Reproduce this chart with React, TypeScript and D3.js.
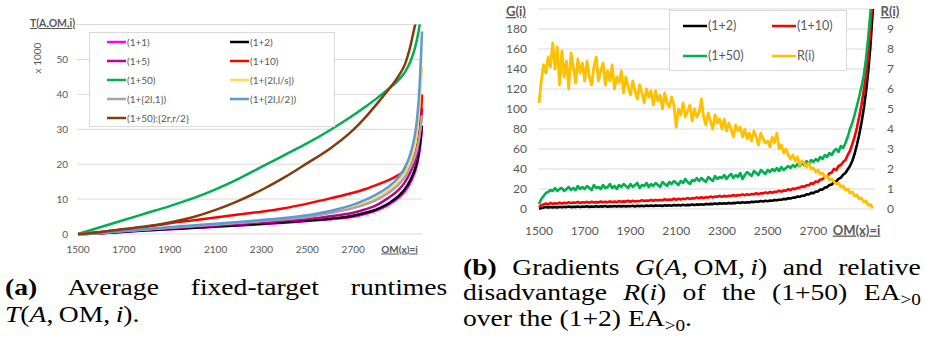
import React from "react";
import * as d3 from "d3";

// ---------- Left chart (a): T(A,OM,i) in thousands ----------
const omLeft = [1500,1550,1600,1700,1800,1900,2000,2100,2200,2300,2400,2500,2600,2700,2750,2800,2850,2900,2925,2950,2965,2975,2985,2990,2995,2998,3000];
const t1p1 = [0,0.05,0.2,0.6,1.0,1.35,1.7,2.05,2.4,2.8,3.2,3.7,4.2,4.9,5.7,6.7,8.2,10.5,12.2,14.8,17,19,22,24,27,29,30];
const t1p2 = [0,0.06,0.22,0.65,1.05,1.4,1.8,2.15,2.5,2.9,3.35,3.85,4.4,5.2,6.0,7.0,8.6,11.0,12.8,15.5,17.8,19.8,23,25,28,30,31];
const t1p5 = [0,0.08,0.28,0.8,1.25,1.65,2.05,2.45,2.85,3.3,3.8,4.3,5.1,6.1,7.0,8.2,10.2,12.8,14.8,17.8,20,22,25.5,28,31.5,34,36];
const t1p10 = [0,0.3,0.6,1.3,2.1,3.1,3.9,4.7,5.6,6.4,7.4,8.7,10.2,11.8,12.8,14.0,15.3,17.0,18.2,20,22,24,27.5,30,34,37,40];
const t1p50 = [0,1.0,2.0,4.0,6.0,8.0,10.2,12.8,15.8,19.2,22.6,26.0,29.8,34.0,36.3,38.7,41.3,44.3,46.3,49.5,52.3,54.8,58,60,62,63,64];
const t2lls = [0,0.1,0.33,0.9,1.38,1.85,2.32,2.8,3.28,3.78,4.35,5.1,6.2,7.8,8.9,10.3,12.3,15.2,17.5,21,24.5,28,34,38,43,46,48];
const t2l1 = [0,0.1,0.3,0.85,1.33,1.8,2.27,2.72,3.2,3.7,4.25,4.9,6.0,7.4,8.4,9.7,11.6,14.3,16.3,19.2,21.5,23.5,26.5,28.5,31,33,34];
const t2ll2 = [0,0.1,0.35,0.95,1.45,1.95,2.45,2.95,3.45,4.0,4.6,5.4,6.6,8.4,9.7,11.3,13.3,16.4,19,23,27,31,38,43,50,55,58];
const t50rr = [0,0.2,0.6,1.4,2.2,3.3,4.8,6.9,9.5,12.6,16.2,20.3,24.5,29.8,33.2,37.0,41.0,45.5,48.5,54,58.5,61.5,66,68,70,71,72];

const leftSeries = [
  { name: "(1+1)", color: "#FF00FF", values: t1p1 },
  { name: "(1+2)", color: "#000000", values: t1p2 },
  { name: "(1+5)", color: "#C00090", values: t1p5 },
  { name: "(1+10)", color: "#FF0000", values: t1p10 },
  { name: "(1+50)", color: "#00B050", values: t1p50 },
  { name: "(1+{2l,l/s})", color: "#FFD966", values: t2lls },
  { name: "(1+{2l,1})", color: "#A5A5A5", values: t2l1 },
  { name: "(1+{2l,l/2})", color: "#5B9BD5", values: t2ll2 },
  { name: "(1+50):{2r,r/2}", color: "#843C0C", values: t50rr },
];
const leftXTicks = [1500,1700,1900,2100,2300,2500,2700];
const leftYTicks = [0,10,20,30,40,50];
const leftGrid = [0,10,20,30,40,50,60];

// ---------- Right chart (b): gradients G(i) and R(i), step 10 from 1500 to 2960 ----------
const omRight = d3.range(1500, 2970, 10);
const g1p2 = [
  0.3,1.0,1.4,1.9,1.4,2.1,1.6,2.0,1.6,2.3,
  1.7,2.2,1.9,2.5,1.9,2.3,2.1,2.6,2.0,2.4,
  2.2,2.7,2.1,2.5,2.3,2.8,2.2,2.7,2.4,2.9,
  2.3,2.8,2.5,3.0,2.4,2.9,2.6,3.1,2.5,3.0,
  2.8,3.2,2.6,3.3,2.9,3.2,2.8,3.4,3.0,3.5,
  2.9,3.6,3.2,3.5,3.1,3.8,3.4,3.7,3.3,4.0,
  3.6,4.0,3.5,4.2,3.8,4.1,3.9,4.5,3.9,4.6,
  4.3,4.7,4.3,5.1,4.7,5.1,4.9,5.5,4.9,5.7,
  5.3,5.7,5.4,6.1,5.6,6.1,5.9,6.5,6.0,6.7,
  6.3,6.8,6.5,7.3,6.9,7.4,7.2,7.9,7.4,8.2,
  7.8,8.4,8.2,9.0,8.7,9.3,9.2,10.1,9.8,10.8,
  10.5,11.4,11.3,12.5,12.2,13.3,13.3,14.7,14.5,16.1,
  15.9,17.4,17.6,19.4,19.4,21.5,21.9,24.0,24.4,26.9,
  27.6,30.2,31.4,34.2,36,39.5,43,48,55,64,
  74,86,100,117,138,165,200,
];
const g1p10 = [
  2,3.8,4.6,5.4,4.6,6.0,5.1,5.8,5.3,6.4,
  5.4,6.3,5.7,6.8,5.9,6.5,6.2,7.0,6.0,6.7,
  6.4,7.1,6.2,7.3,6.6,6.9,6.5,7.5,6.8,7.2,
  6.7,7.6,7.0,7.4,6.9,7.9,7.2,7.6,7.4,8.2,
  7.3,8.2,7.6,8.0,7.8,8.7,7.9,8.5,8.3,9.1,
  8.2,9.1,8.6,9.0,8.8,9.7,8.9,9.5,9.3,10.2,
  9.2,10.3,9.5,10.2,10.0,10.9,10.1,10.8,10.6,11.6,
  10.7,11.7,11.0,11.8,11.5,12.4,11.6,12.4,12.2,13.1,
  12.1,13.2,12.6,13.2,13.0,14.0,13.1,13.9,13.7,14.6,
  13.7,14.8,14.1,15.0,14.7,15.8,14.9,15.8,15.6,16.6,
  15.7,17.0,16.3,17.2,17.1,18.3,17.4,18.5,18.4,19.7,
  18.9,20.5,19.8,21.2,21.2,22.8,22.1,23.8,23.8,25.8,
  25.1,27.6,27.1,29.5,29.8,32.6,32.3,35.8,36.3,40.2,
  39,43,44,47,49,54,58,65,72,81,
  92,104,118,134,155,182,215,
];
const g1p50 = [
  5,10,13,16,17,19,18,21,18,20,
  21,18,20,22,19,21,19,23,20,22,
  20,23,21,19,24,21,22,20,24,21,
  22,25,21,23,20,24,22,25,23,21,
  25,22,24,26,21,24,23,26,22,25,
  23,26,24,22,27,25,23,27,25,28,
  26,24,28,26,30,27,25,29,28,31,
  28,31,29,27,32,30,28,33,30,32,
  31,34,30,33,35,31,34,32,36,30,
  34,37,35,33,38,36,34,39,37,35,
  39,37,40,38,41,38,42,39,41,43,
  41,44,42,45,43,46,44,48,45,49,
  47,50,48,52,50,54,52,56,54,58,
  60,57,63,61,66,72,80,86,94,103,
  112,122,133,150,172,198,230,
];
const rValues = [
  5.3,6.4,7.2,6.8,7.6,7.1,8.3,7.0,8.1,6.2,
  7.9,6.6,7.4,6.0,7.8,7.1,6.3,7.5,6.8,7.3,
  6.4,7.4,6.6,6.2,7.1,7.6,6.4,6.9,7.3,6.2,
  6.9,6.4,7.2,6.0,6.6,6.3,6.9,5.8,6.6,6.1,
  5.7,6.4,5.9,5.5,6.2,5.8,5.3,6.0,5.6,5.9,
  5.2,5.9,5.4,5.7,5.0,5.8,5.3,5.1,5.6,5.2,
  4.1,5.0,4.7,5.3,4.6,4.9,5.2,4.4,5.0,4.6,
  4.8,5.5,4.6,4.2,4.8,4.4,4.0,4.7,4.3,4.5,
  4.0,4.5,3.9,4.3,4.0,3.6,4.2,3.9,4.1,3.6,
  4.0,3.5,3.8,3.4,3.9,3.6,3.2,3.8,3.5,3.3,
  3.4,3.1,3.6,3.3,3.8,3.0,3.2,2.8,3.0,2.7,
  2.5,2.7,2.4,2.6,2.2,2.4,2.3,2.1,2.3,2.0,
  2.05,1.85,1.95,1.75,1.8,1.6,1.65,1.45,1.5,1.35,
  1.25,1.3,1.1,1.15,0.95,1.0,0.8,0.85,0.65,0.7,
  0.5,0.55,0.35,0.4,0.2,0.22,0.05,
];
const rightSeries = [
  { name: "(1+2)", color: "#000000", values: g1p2, axis: "G" },
  { name: "(1+10)", color: "#FF0000", values: g1p10, axis: "G" },
  { name: "(1+50)", color: "#00B050", values: g1p50, axis: "G" },
  { name: "R(i)", color: "#FFC000", values: rValues, axis: "R" },
];
const rightXTicks = [1500,1700,1900,2100,2300,2500,2700];
const gTicks = [0,20,40,60,80,100,120,140,160,180];
const gGrid = [0,20,40,60,80,100,120,140,160,180,200];
const rTicks = [0,1,2,3,4,5,6,7,8,9];

const GRID = "#D9D9D9";
const LABEL = "#595959";
const SANS = "Lato, 'Liberation Sans', sans-serif";
const SERIF_NAME = "'Liberation Serif'";
const CAP_SIZE = 23;
const SUB_SIZE = 16;
const SX = 1.2;

type Seg = { t: string; i?: boolean; b?: boolean; sub?: boolean };

let measureCtx: CanvasRenderingContext2D | null = null;
function segWidth(s: Seg): number {
  if (!measureCtx && typeof document !== "undefined") {
    measureCtx = document.createElement("canvas").getContext("2d");
  }
  if (!measureCtx) return s.t.length * CAP_SIZE * 0.45;
  measureCtx.font = `${s.i ? "italic " : ""}${s.b ? "bold " : ""}${s.sub ? SUB_SIZE : CAP_SIZE}px ${SERIF_NAME}`;
  return measureCtx.measureText(s.t).width;
}

function CapLine({ x, y, width, segs }: { x: number; y: number; width?: number; segs: Seg[] }) {
  let ws = 0;
  if (width) {
    const natural = segs.reduce((a, s) => a + segWidth(s), 0);
    const spaces = segs.reduce((a, s) => a + (s.t.match(/ /g) || []).length, 0);
    if (spaces > 0) ws = (width / SX - natural) / spaces;
  }
  let prevSub = false;
  return (
    <text transform={`translate(${x},${y}) scale(${SX},1)`} style={{ wordSpacing: `${ws}px`, whiteSpace: "pre" }}>
      {segs.map((s, k) => {
        const dy = s.sub ? 5 : prevSub ? -5 : undefined;
        prevSub = !!s.sub;
        return (
          <tspan
            key={k}
            fontStyle={s.i ? "italic" : undefined}
            fontWeight={s.b ? "bold" : undefined}
            fontSize={s.sub ? SUB_SIZE : undefined}
            dy={dy}
          >
            {s.t}
          </tspan>
        );
      })}
    </text>
  );
}

export default function App() {
  const xL = d3.scaleLinear().domain([1500, 3000]).range([78, 422]);
  const yL = d3.scaleLinear().domain([0, 60]).range([234, 24.5]);
  const xR = d3.scaleLinear().domain([1500, 2965]).range([539, 874]);
  const yG = d3.scaleLinear().domain([0, 200]).range([209, 9]);
  const yR = d3.scaleLinear().domain([0, 10]).range([209, 9]);

  const lineL = d3
    .line<number>()
    .x((_, i) => xL(omLeft[i]))
    .y((d) => yL(d))
    .curve(d3.curveMonotoneX);
  const lineG = d3.line<number>().x((_, i) => xR(omRight[i])).y((d) => yG(d));
  const lineR = d3.line<number>().x((_, i) => xR(omRight[i])).y((d) => yR(d));

  const leftLegendRows = [
    [leftSeries[0], leftSeries[1]],
    [leftSeries[2], leftSeries[3]],
    [leftSeries[4], leftSeries[5]],
    [leftSeries[6], leftSeries[7]],
    [leftSeries[8]],
  ];
  const rightLegendRows = [
    [rightSeries[0], rightSeries[1]],
    [rightSeries[2], rightSeries[3]],
  ];

  return (
    <svg
      width={926}
      height={340}
      style={{ position: "absolute", left: 0, top: 0, background: "#fff" }}
    >
      <defs>
        <clipPath id="clipL">
          <rect x={70} y={yL(60)} width={360} height={yL(0) - yL(60) + 4} />
        </clipPath>
        <clipPath id="clipR">
          <rect x={530} y={yG(200)} width={350} height={yG(0) - yG(200) + 4} />
        </clipPath>
      </defs>

      {/* ================= LEFT CHART ================= */}
      <g fontFamily={SANS}>
        {leftGrid.map((v) => (
          <line key={v} x1={77} x2={422} y1={yL(v)} y2={yL(v)} stroke={GRID} strokeWidth={1} />
        ))}
        {leftYTicks.map((v) => (
          <text key={v} x={68} y={yL(v)} dy="0.35em" textAnchor="end" fontSize={10} fill={LABEL}>
            {v}
          </text>
        ))}
        {leftXTicks.map((v) => (
          <text key={v} x={xL(v)} y={252.5} textAnchor="middle" fontSize={10} fill={LABEL}>
            {v}
          </text>
        ))}
        <text x={399.5} y={252.5} textAnchor="middle" fontSize={10} fontWeight="bold" fill={LABEL} textDecoration="underline">
          OM(x)=i
        </text>
        <text x={52.5} y={27} textAnchor="middle" fontSize={10.5} fontWeight="bold" fill={LABEL} textDecoration="underline">
          T(A,OM,i)
        </text>
        <text transform="translate(41,58) rotate(-90)" textAnchor="middle" fontSize={10} fill={LABEL}>
          x 1000
        </text>

        <g clipPath="url(#clipL)">
          {leftSeries.map((s) => (
            <path key={s.name} d={lineL(s.values) || ""} fill="none" stroke={s.color} strokeWidth={2.5} strokeLinejoin="round" />
          ))}
        </g>

        <rect x={89.5} y={32.5} width={245} height={94} fill="#fff" stroke={GRID} strokeWidth={1} />
        {leftLegendRows.map((row, r) =>
          row.map((s, c) => {
            const lx = c === 0 ? 107 : 230;
            const y = 42 + r * 19;
            return (
              <g key={s.name}>
                <line x1={lx} x2={lx + 19} y1={y} y2={y} stroke={s.color} strokeWidth={2.5} />
                <text x={lx + 20} y={y} dy="0.35em" fontSize={10} fill={LABEL}>
                  {s.name}
                </text>
              </g>
            );
          })
        )}
      </g>

      {/* ================= RIGHT CHART ================= */}
      <g fontFamily={SANS}>
        {gGrid.map((v) => (
          <line key={v} x1={539} x2={875} y1={yG(v)} y2={yG(v)} stroke={GRID} strokeWidth={1} />
        ))}
        {gTicks.map((v) => (
          <text key={v} x={527} y={yG(v)} dy="0.35em" textAnchor="end" fontSize={12} fill={LABEL}>
            {v}
          </text>
        ))}
        {rTicks.map((v) => (
          <text key={v} x={887} y={yR(v)} dy="0.35em" textAnchor="start" fontSize={12} fill={LABEL}>
            {v}
          </text>
        ))}
        {rightXTicks.map((v) => (
          <text key={v} x={xR(v)} y={234.5} textAnchor="middle" fontSize={12} fill={LABEL}>
            {v}
          </text>
        ))}
        <text x={856.5} y={234.5} textAnchor="middle" fontSize={13} fontWeight="bold" fill={LABEL} textDecoration="underline">
          OM(x)=i
        </text>
        <text x={516} y={16} textAnchor="middle" fontSize={13} fontWeight="bold" fill={LABEL} textDecoration="underline">
          G(i)
        </text>
        <text x={890} y={16} textAnchor="middle" fontSize={13} fontWeight="bold" fill={LABEL} textDecoration="underline">
          R(i)
        </text>

        <g clipPath="url(#clipR)">
          {rightSeries.map((s) => (
            <path
              key={s.name}
              d={(s.axis === "G" ? lineG(s.values) : lineR(s.values)) || ""}
              fill="none"
              stroke={s.color}
              strokeWidth={s.axis === "R" ? 2.8 : 2.6}
              strokeLinejoin="round"
            />
          ))}
        </g>

        <rect x={669.5} y={10.5} width={177} height={60} fill="#fff" stroke={GRID} strokeWidth={1} />
        {rightLegendRows.map((row, r) =>
          row.map((s, c) => {
            const lx = c === 0 ? 683 : 772;
            const y = 26 + r * 30;
            return (
              <g key={s.name}>
                <line x1={lx} x2={lx + 24} y1={y} y2={y} stroke={s.color} strokeWidth={2.5} />
                <text x={lx + 25} y={y} dy="0.35em" fontSize={12.5} fill={LABEL}>
                  {s.name}
                </text>
              </g>
            );
          })
        )}
      </g>

      {/* ================= CAPTIONS ================= */}
      <g fontFamily={SERIF_NAME} fontSize={CAP_SIZE} fill="#000">
        <CapLine x={5} y={295} width={444} segs={[{ t: "(a)", b: true }, { t: " Average fixed-target runtimes" }]} />
        <CapLine
          x={5}
          y={322}
          segs={[{ t: "T", i: true }, { t: "(" }, { t: "A", i: true }, { t: ",\u2009OM,\u2009" }, { t: "i", i: true }, { t: ")." }]}
        />
        <CapLine
          x={463}
          y={275}
          width={458}
          segs={[
            { t: "(b)", b: true },
            { t: " Gradients " },
            { t: "G", i: true },
            { t: "(" },
            { t: "A", i: true },
            { t: ",\u2009OM,\u2009" },
            { t: "i", i: true },
            { t: ") and relative" },
          ]}
        />
        <CapLine
          x={463}
          y={300}
          width={458}
          segs={[
            { t: "disadvantage " },
            { t: "R", i: true },
            { t: "(" },
            { t: "i", i: true },
            { t: ") of the (1+50) EA" },
            { t: ">0", sub: true },
          ]}
        />
        <CapLine x={463} y={326} segs={[{ t: "over the (1+2) EA" }, { t: ">0", sub: true }, { t: "." }]} />
      </g>
    </svg>
  );
}
